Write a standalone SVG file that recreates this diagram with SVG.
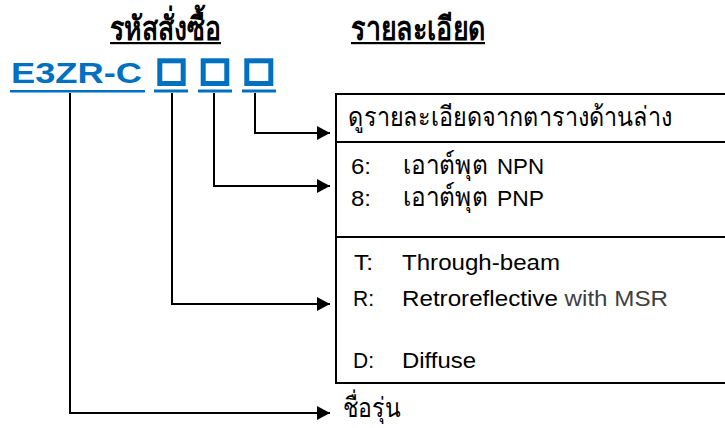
<svg xmlns="http://www.w3.org/2000/svg" width="725" height="428" viewBox="0 0 725 428">
<style>
.hdr{font-family:"Liberation Sans","Noto Sans",sans-serif;font-weight:bold;font-size:33px;fill:#000}
.row{font-family:"Liberation Sans","Noto Sans",sans-serif;font-size:22px;fill:#000}
.th{font-size:27px}
.gray{fill:#404040}
.code{font-family:"Liberation Sans",Arial,sans-serif;font-weight:bold;font-size:29px;fill:#0070C0}
.blue{fill:#0070C0}
.conn{fill:none;stroke:#000;stroke-width:2;marker-end:url(#arr)}
.frame{fill:none;stroke:#000;stroke-width:2}
</style>
<defs>
<marker id="arr" markerUnits="userSpaceOnUse" markerWidth="14" markerHeight="16" refX="13" refY="7" orient="auto">
<path d="M0,0 L13,7 L0,14 Z" fill="#000"/>
</marker>
</defs>
<rect width="725" height="428" fill="#fff"/>
<g id="header-code">
<text class="hdr" x="110" y="40" textLength="111" lengthAdjust="spacingAndGlyphs">รหัสสั่งซื้อ</text>
<rect x="110" y="42" width="111" height="2.2" fill="#000"/>
</g>
<g id="header-detail">
<text class="hdr" x="351" y="40" textLength="134" lengthAdjust="spacingAndGlyphs">รายละเอียด</text>
<rect x="351" y="42" width="134" height="2.2" fill="#000"/>
</g>
<g id="model-code">
<text class="code" x="11" y="82.5" textLength="131" lengthAdjust="spacingAndGlyphs">E3ZR-C</text>
<rect x="10" y="90" width="135" height="2.5" class="blue"/>
</g>
<g id="box1">
<rect x="159.8" y="60.8" width="23.4" height="22.7" fill="none" stroke="#0070C0" stroke-width="5"/>
<rect x="154" y="89.5" width="34" height="3" class="blue"/>
</g>
<g id="box2">
<rect x="203.2" y="60.8" width="23.6" height="22.7" fill="none" stroke="#0070C0" stroke-width="5"/>
<rect x="198" y="89.5" width="34" height="3" class="blue"/>
</g>
<g id="box3">
<rect x="246.8" y="60.8" width="24" height="22.7" fill="none" stroke="#0070C0" stroke-width="5"/>
<rect x="242" y="89.5" width="34" height="3" class="blue"/>
</g>
<g id="connectors">
<polyline class="conn" points="255,93 255,133 330,133"/>
<polyline class="conn" points="214,93 214,186 330,186"/>
<polyline class="conn" points="172,93 172,304 330,304"/>
<polyline class="conn" points="70,93 70,413 330,413"/>
</g>
<g id="detail-table">
<path class="frame" d="M336,94 H727 V383 H336 Z M336,142 H727 M336,237 H727"/>
</g>
<g id="row-see-table">
<text class="row th" x="348" y="126" textLength="324" lengthAdjust="spacingAndGlyphs">ดูรายละเอียดจากตารางด้านล่าง</text>
</g>
<g id="row-output">
<text class="row" x="351" y="174" textLength="20" lengthAdjust="spacingAndGlyphs">6:</text>
<text class="row th" x="403" y="174" textLength="85" lengthAdjust="spacingAndGlyphs">เอาต์พุต</text>
<text class="row" x="497" y="174" textLength="47" lengthAdjust="spacingAndGlyphs">NPN</text>
<text class="row" x="351" y="206" textLength="20" lengthAdjust="spacingAndGlyphs">8:</text>
<text class="row th" x="403" y="206" textLength="85" lengthAdjust="spacingAndGlyphs">เอาต์พุต</text>
<text class="row" x="497" y="206" textLength="47" lengthAdjust="spacingAndGlyphs">PNP</text>
</g>
<g id="row-sensing">
<text class="row" x="354" y="270" textLength="19" lengthAdjust="spacingAndGlyphs">T:</text>
<text class="row" x="402" y="270" textLength="158" lengthAdjust="spacingAndGlyphs">Through-beam</text>
<text class="row" x="353" y="306" textLength="21" lengthAdjust="spacingAndGlyphs">R:</text>
<text class="row" x="402" y="306" textLength="266" lengthAdjust="spacingAndGlyphs">Retroreflective <tspan class="gray">with MSR</tspan></text>
<text class="row" x="353" y="368" textLength="21" lengthAdjust="spacingAndGlyphs">D:</text>
<text class="row" x="402" y="368" textLength="74" lengthAdjust="spacingAndGlyphs">Diffuse</text>
</g>
<g id="model-name">
<text class="row th" x="343" y="417" textLength="57" lengthAdjust="spacingAndGlyphs">ชื่อรุ่น</text>
</g>
</svg>
